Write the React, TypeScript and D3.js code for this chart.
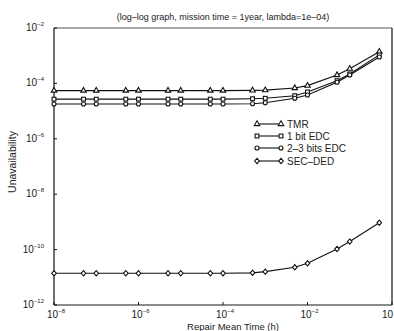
import React from 'react';
import * as d3 from 'd3';

const repairTimes = [1e-8, 5e-8, 1e-7, 5e-7, 1e-6, 5e-6, 1e-5, 5e-5, 1e-4, 5e-4, 1e-3, 5e-3, 1e-2, 5e-2, 1e-1, 5e-1];

const tmr = [5.5e-5, 5.5e-5, 5.5e-5, 5.5e-5, 5.5e-5, 5.5e-5, 5.5e-5, 5.5e-5, 5.5e-5, 5.6e-5, 5.7e-5, 6.8e-5, 8.3e-5, 2.0e-4, 3.4e-4, 1.4e-3];
const edc1 = [2.7e-5, 2.7e-5, 2.7e-5, 2.7e-5, 2.7e-5, 2.7e-5, 2.7e-5, 2.7e-5, 2.7e-5, 2.8e-5, 2.9e-5, 3.6e-5, 4.9e-5, 1.25e-4, 2.2e-4, 1.07e-3];
const edc23 = [1.8e-5, 1.8e-5, 1.8e-5, 1.8e-5, 1.8e-5, 1.8e-5, 1.8e-5, 1.8e-5, 1.8e-5, 1.85e-5, 2.0e-5, 2.9e-5, 3.8e-5, 1.1e-4, 2.0e-4, 9.0e-4];
const secded = [1.4e-11, 1.4e-11, 1.4e-11, 1.4e-11, 1.4e-11, 1.4e-11, 1.4e-11, 1.4e-11, 1.4e-11, 1.45e-11, 1.6e-11, 2.3e-11, 3.2e-11, 1.05e-10, 1.95e-10, 9.3e-10];

const seriesNames = ['TMR', '1 bit EDC', '2\u20133 bits EDC', 'SEC\u2013DED'];
const seriesValues = [tmr, edc1, edc23, secded];
const markerKinds = ['triangle', 'square', 'circle', 'diamond'];

const xTickExps = [-8, -6, -4, -2, 0];
const yTickExps = [-2, -4, -6, -8, -10, -12];

const W = 394;
const H = 331;
const left = 54;
const right = 392;
const top = 28;
const bottom = 305;

const Marker = ({ kind, x, y }: { kind: string; x: number; y: number }) => {
  const st = { fill: 'white', stroke: '#111', strokeWidth: 1.1 };
  if (kind === 'triangle') {
    const path = d3.symbol(d3.symbolTriangle, 13)();
    return <path d={path || ''} transform={`translate(${x},${y})`} {...st} />;
  }
  if (kind === 'square') {
    return <rect x={x - 1.9} y={y - 1.9} width={3.8} height={3.8} {...st} />;
  }
  if (kind === 'circle') {
    return <circle cx={x} cy={y} r={2} {...st} />;
  }
  return <path d={`M${x},${y - 2.6}L${x + 2.3},${y}L${x},${y + 2.6}L${x - 2.3},${y}Z`} {...st} />;
};

const Pow = ({ x, y, exp, anchor }: { x: number; y: number; exp: number; anchor: string }) => (
  <text x={x} y={y} textAnchor={anchor} fontSize={10} fill="#222">
    10
    {exp !== 0 && (
      <tspan fontSize={6} dy={-5}>
        {exp < 0 ? `\u2212${-exp}` : exp}
      </tspan>
    )}
  </text>
);

export default function App() {
  const x = d3.scaleLog().domain([1e-8, 1]).range([left, right]);
  const y = d3.scaleLog().domain([1e-12, 1e-2]).range([bottom, top]);

  const line = d3
    .line<number>()
    .x((_, i) => x(repairTimes[i]))
    .y((d) => y(d));

  const legendY = [124, 136, 148, 161];

  return (
    <svg width={W} height={H} style={{ position: 'absolute', left: 0, top: 0, fontFamily: 'Liberation Sans, Arial, sans-serif' }}>
      <rect width={W} height={H} fill="white" />
      <text x={223} y={20} textAnchor="middle" fontSize={9} fill="#222">
        (log–log graph, mission time = 1year, lambda=1e–04)
      </text>

      {/* frame */}
      <line x1={left} x2={right} y1={top} y2={top} stroke="#555" strokeWidth={1.2} />
      <line x1={right} x2={right} y1={top} y2={bottom} stroke="#111" strokeWidth={1.2} />
      <line x1={left} x2={right} y1={bottom} y2={bottom} stroke="#666" strokeWidth={1.6} />
      <line x1={left} x2={left} y1={top} y2={bottom} stroke="#111" strokeWidth={1.2} />

      {yTickExps.map((e) => (
        <g key={e}>
          <line x1={left} x2={left + 3} y1={y(Math.pow(10, e))} y2={y(Math.pow(10, e))} stroke="#111" />
          <Pow x={44} y={y(Math.pow(10, e)) + 3} exp={e} anchor="end" />
        </g>
      ))}
      {xTickExps.map((e) => (
        <g key={e}>
          <line x1={x(Math.pow(10, e))} x2={x(Math.pow(10, e))} y1={bottom} y2={bottom - 3} stroke="#111" />
          {e === 0 ? (
            <Pow x={393} y={318} exp={e} anchor="end" />
          ) : (
            <Pow x={x(Math.pow(10, e)) + 2} y={318} exp={e} anchor="middle" />
          )}
        </g>
      ))}

      <text x={233} y={330} textAnchor="middle" fontSize={9.5} fill="#222">
        Repair Mean Time (h)
      </text>
      <text transform="translate(16,162) rotate(-90)" textAnchor="middle" fontSize={10.5} fill="#222">
        Unavailability
      </text>

      {seriesValues.map((vals, si) => (
        <g key={si}>
          <path d={line(vals) || ''} fill="none" stroke="#111" strokeWidth={1.1} />
          {vals.map((v, i) => (
            <Marker key={i} kind={markerKinds[si]} x={x(repairTimes[i])} y={y(v)} />
          ))}
        </g>
      ))}

      {seriesNames.map((name, i) => (
        <g key={name}>
          <line x1={257} x2={281} y1={legendY[i]} y2={legendY[i]} stroke="#111" strokeWidth={1.1} />
          <Marker kind={markerKinds[i]} x={257} y={legendY[i]} />
          <Marker kind={markerKinds[i]} x={281} y={legendY[i]} />
          <text x={287} y={legendY[i] + 3.5} fontSize={10} fill="#222">
            {name}
          </text>
        </g>
      ))}
    </svg>
  );
}
